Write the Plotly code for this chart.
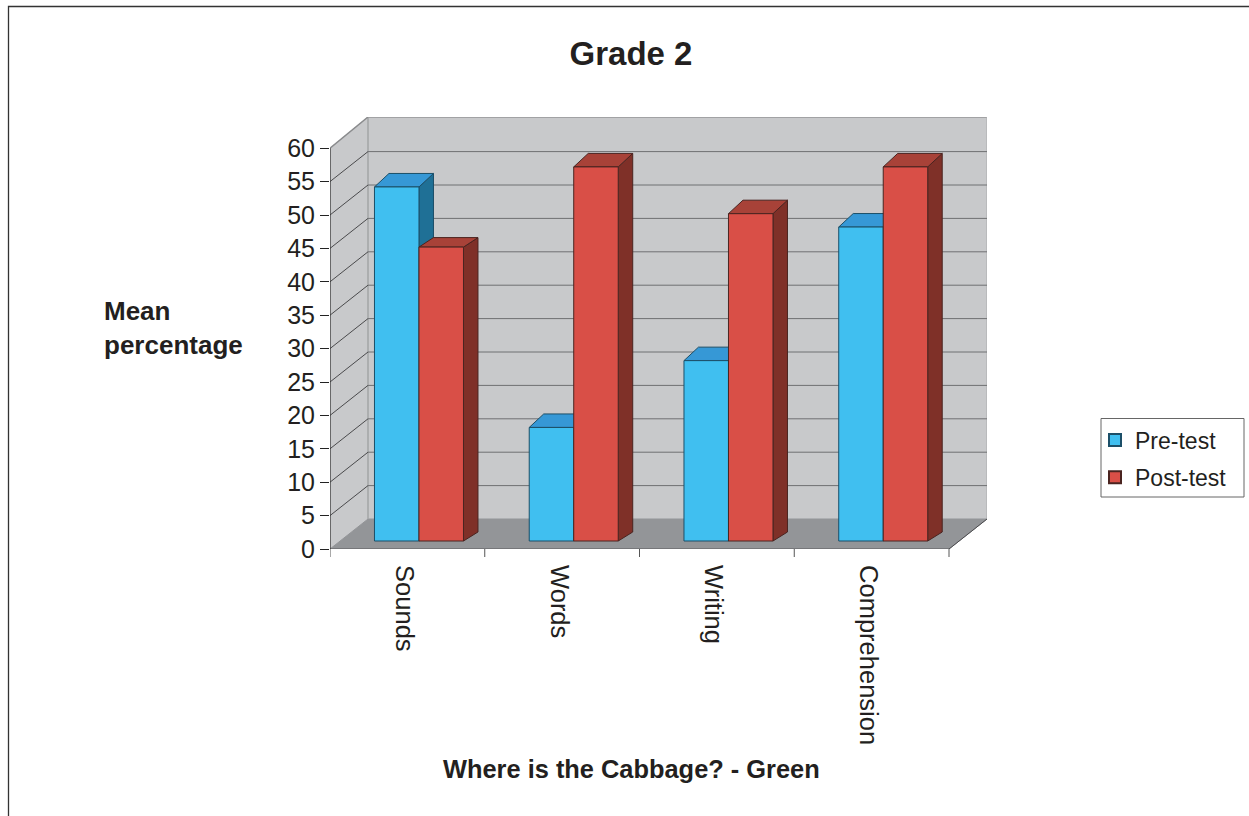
import numpy as np
import plotly.graph_objects as go

categories = ["Sounds", "Words", "Writing", "Comprehension"]
pre_test = [53, 17, 27, 47]
post_test = [44, 56, 49, 56]
y_ticks = list(range(0, 65, 5))[:13]

W, H = 1249, 816
FONT = "Liberation Sans"
INK = "#231f20"
# pixel geometry of the pseudo-3D box
PX_L, PX_R, PX_T, PX_B = 330, 987, 117, 549
PX_CAT, PX_UNIT = 154.75, 6.68
x_max = (PX_R - PX_L) / PX_CAT
y_max = (PX_B - PX_T) / PX_UNIT
WALL_DX, WALL_DY = 38 / PX_CAT, 30 / PX_UNIT
BAR_DX, BAR_DY_LOW = 14.5 / PX_CAT, 9 / PX_UNIT
PRE_DEPTH = [13.5 / PX_UNIT] * 4
POST_DEPTH = [9.5 / PX_UNIT, 13.5 / PX_UNIT, 13.5 / PX_UNIT, 13.5 / PX_UNIT]
BAR_W = 44.5 / PX_CAT
BASE = 8 / PX_UNIT
GROUP_C = 0.575
n_cat = len(categories)

# paper coordinates are relative to the plot area
def px(x):
    return (x - PX_L) / (PX_R - PX_L)
def py(y):
    return (PX_B - y) / (PX_B - PX_T)

shapes = []
def poly(pts, fill, line=None, width=1, layer="below"):
    d = "M " + " L ".join(f"{a},{b}" for a, b in pts) + " Z"
    shapes.append(dict(type="path", path=d, xref="x", yref="y", fillcolor=fill,
                       line=dict(color=line or fill, width=width), layer=layer))
def seg(x0, y0, x1, y1, color, width=1, layer="below"):
    shapes.append(dict(type="line", x0=x0, y0=y0, x1=x1, y1=y1, xref="x", yref="y",
                       line=dict(color=color, width=width), layer=layer))

# outer frame
shapes.append(dict(type="path", xref="paper", yref="paper",
                   path=f"M {px(8.5)},{py(H)} L {px(8.5)},{py(6.5)} L {px(W)},{py(6.5)}",
                   line=dict(color="#333333", width=1.3)))
# legend box
shapes.append(dict(type="rect", xref="paper", yref="paper", x0=px(1101), x1=px(1244),
                   y0=py(497), y1=py(418.5), line=dict(color="#666666", width=1), layer="below"))

# walls and floor
poly([(WALL_DX, WALL_DY), (x_max, WALL_DY), (x_max, y_max), (WALL_DX, y_max)], "#c8c9cb")
poly([(0, 0), (WALL_DX, WALL_DY), (WALL_DX, y_max), (0, max(y_ticks))], "#c8c9cb")
poly([(0, 0), (n_cat, 0), (x_max, WALL_DY), (WALL_DX, WALL_DY)], "#939598")
seg(WALL_DX, y_max, x_max, y_max, "#949597", 1.5)
seg(WALL_DX, WALL_DY, WALL_DX, y_max, "#a3a4a6", 1.5)
seg(x_max, WALL_DY, x_max, y_max, "#b0b1b3", 1.2)
# grid
for t in y_ticks[1:-1]:
    seg(0, t, WALL_DX, t + WALL_DY, "#4a4a4c", 1)
    seg(WALL_DX, t + WALL_DY, x_max, t + WALL_DY, "#6f7072", 1)
seg(0, max(y_ticks), WALL_DX, y_max, "#8a8b8d", 1.5)
# floor edge, y axis line, x tick marks
seg(n_cat, 0, x_max, WALL_DY, "#4a4a4c", 1)
seg(0, 0, n_cat, 0, "#5a5a5c", 1.2)
seg(0, 0, 0, max(y_ticks), "#333333", 1.3)
for i in range(n_cat + 1):
    shapes.append(dict(type="line", xref="x", yref="paper", x0=i, x1=i,
                       y0=py(PX_B), y1=py(PX_B + 8), line=dict(color="#555555", width=1)))

fig = go.Figure()
series = [
    ("Pre-test", pre_test, PRE_DEPTH, -BAR_W / 2, "#40bff0", "#1f7096", "#3698d6", "#1c4f68", 1),
    ("Post-test", post_test, POST_DEPTH, BAR_W / 2, "#d94f47", "#7f3028", "#a84238", "#4a2420", 3),
]
for name, vals, depth, shift, front, side, topc, edge, z in series:
    xc = np.arange(n_cat) + GROUP_C + shift
    fig.add_trace(go.Bar(name=name, x=xc, y=vals, base=BASE, width=BAR_W, legendgroup=name,
                         marker=dict(color=front, line=dict(color=edge, width=1)),
                         zorder=z + 1, hoverinfo="skip"))
    for xi, v, dy in zip(xc, vals, depth):
        xl, xr, yt = xi - BAR_W / 2, xi + BAR_W / 2, BASE + v
        fig.add_trace(go.Scatter(
            x=[xr, xr + BAR_DX, xr + BAR_DX, xr, xr],
            y=[yt, yt + dy, BASE + BAR_DY_LOW, BASE, yt],
            mode="lines", fill="toself", fillcolor=side, line=dict(color=edge, width=1),
            showlegend=False, hoverinfo="skip", zorder=z))
        fig.add_trace(go.Scatter(
            x=[xl, xl + BAR_DX, xr + BAR_DX, xr, xl],
            y=[yt, yt + dy, yt + dy, yt, yt],
            mode="lines", fill="toself", fillcolor=topc, line=dict(color=edge, width=1),
            showlegend=False, hoverinfo="skip", zorder=z))

annotations = [
    dict(text="<b>Mean<br>percentage</b>", x=px(102), y=py(328), xref="paper", yref="paper",
         xanchor="left", yanchor="middle", align="left", showarrow=False,
         font=dict(family=FONT, size=26, color=INK)),
    dict(text="<b>Where is the Cabbage? - Green</b>", x=px(631), y=py(769), xref="paper", yref="paper",
         xanchor="center", yanchor="middle", showarrow=False,
         font=dict(family=FONT, size=25.4, color=INK)),
]

fig.update_layout(
    width=W, height=H, autosize=False,
    margin=dict(l=PX_L, r=W - PX_R, t=PX_T, b=H - PX_B, pad=0, autoexpand=False),
    paper_bgcolor="white", plot_bgcolor="white",
    barmode="overlay", font=dict(family=FONT, color=INK),
    title=dict(text="<b>Grade 2</b>", x=631 / W, xanchor="center", y=1 - 53 / H, yanchor="middle",
               font=dict(family=FONT, size=33, color=INK)),
    xaxis=dict(range=[0, x_max], tickmode="array", tickvals=np.arange(n_cat) + 0.48,
               ticktext=categories, tickangle=90, ticks="outside", ticklen=10,
               tickcolor="rgba(0,0,0,0)", showgrid=False, zeroline=False,
               showline=False, tickfont=dict(family=FONT, size=25.5, color=INK)),
    yaxis=dict(range=[0, y_max], tickmode="array", tickvals=y_ticks, ticks="outside", ticklen=9,
               tickcolor="#222222", tickwidth=1, showgrid=False, zeroline=False, showline=False,
               tickfont=dict(family=FONT, size=25, color=INK)),
    legend=dict(x=px(1095), y=py(418.5), xanchor="left", yanchor="top", borderwidth=0,
                bgcolor="rgba(0,0,0,0)", font=dict(family=FONT, size=23, color=INK),
                itemsizing="constant", traceorder="grouped", tracegroupgap=4.5, itemwidth=30),
    shapes=shapes, annotations=annotations,
)
fig.write_html("out.html", config=dict(displayModeBar=False),
               post_script="document.body.style.margin='0';document.documentElement.style.overflow='hidden';")
